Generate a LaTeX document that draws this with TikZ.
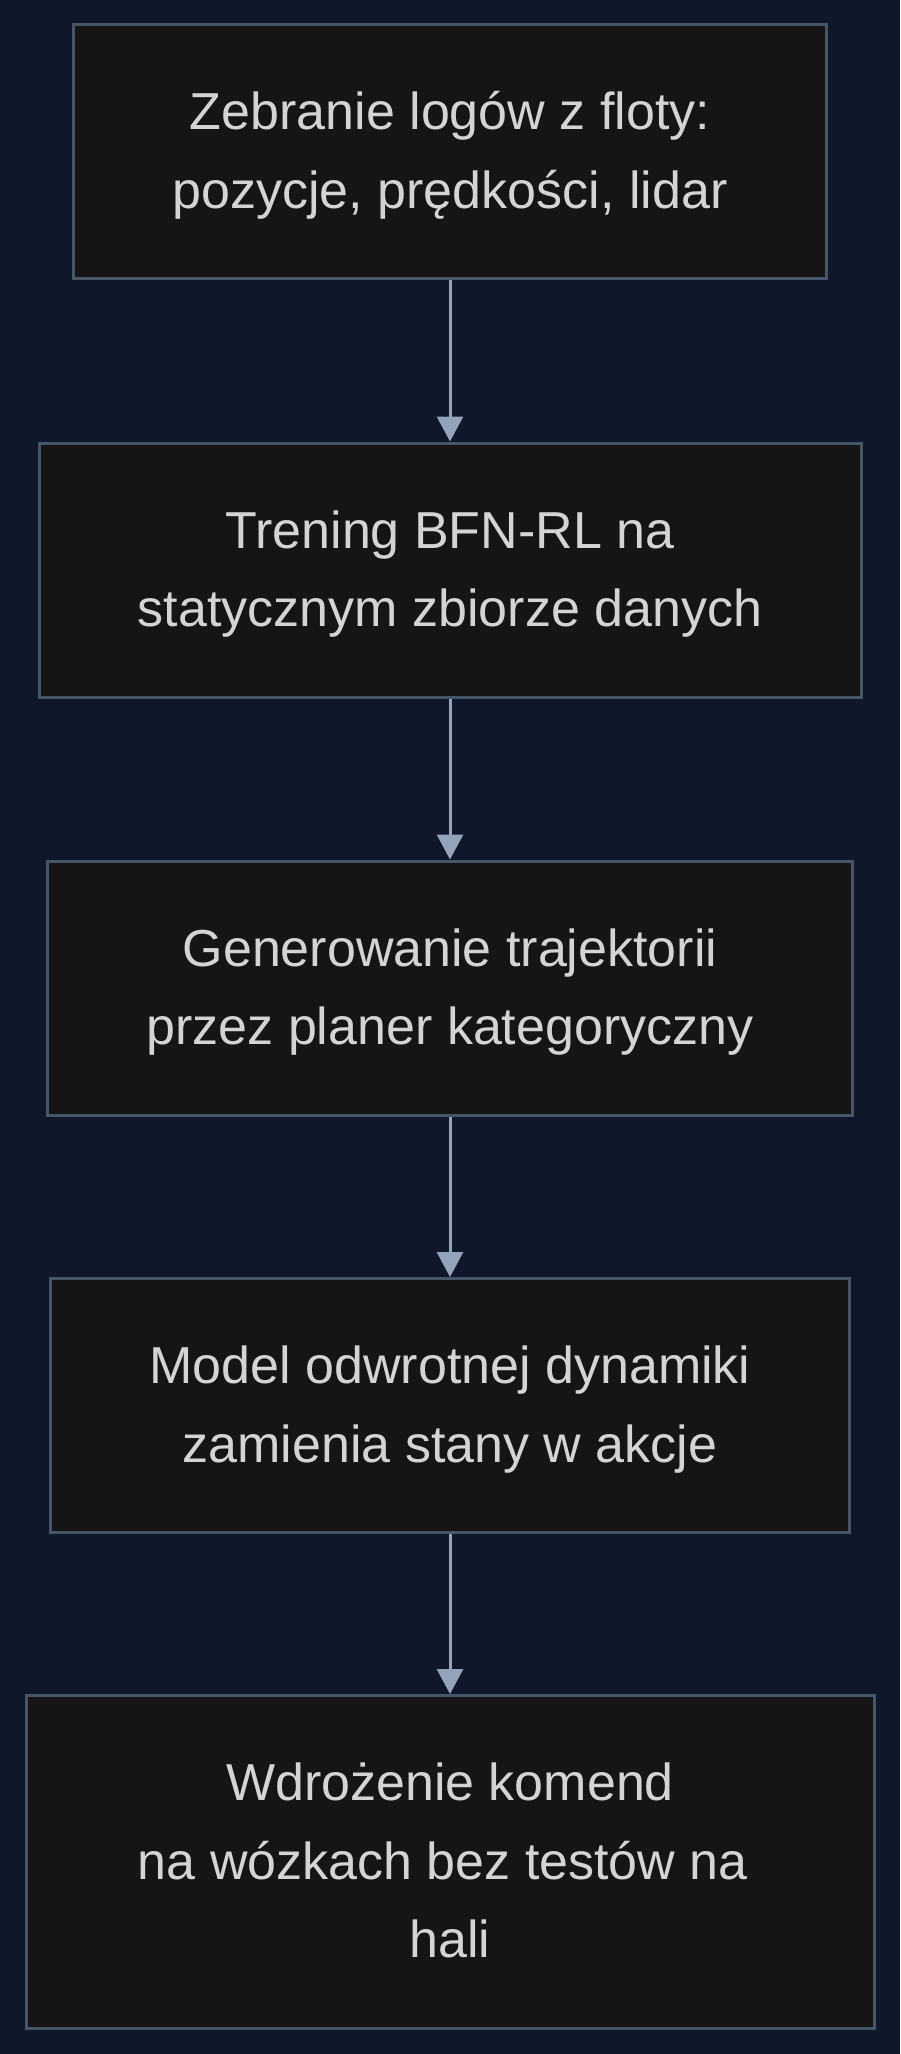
\documentclass[tikz,border=0pt]{standalone}
\usepackage{fontspec}
\setmainfont{Liberation Sans}
\usetikzlibrary{arrows.meta}
\definecolor{bg}{HTML}{0F172A}
\definecolor{boxfill}{HTML}{151515}
\definecolor{boxline}{HTML}{475569}
\definecolor{txt}{HTML}{D4D4D4}
\definecolor{arr}{HTML}{94A3B8}
\begin{document}
\begin{tikzpicture}[x=0.5pt,y=-0.5pt,
 stepbox/.style={draw=boxline, fill=boxfill, line width=1.5pt, text=txt, align=center,
   font=\fontsize{26}{39.3}\selectfont, inner sep=0pt, text height=59.3pt, text depth=2.7pt},
 threeline/.style={text height=98.6pt},
 flow/.style={draw=arr, line width=1.5pt, -{Triangle[length=12.5pt,width=13pt]}}]
\fill[bg] (0,0) rectangle (900,2054);
\useasboundingbox (0,0) rectangle (900,2054);
\node[stepbox, minimum width=376.5pt, minimum height=127pt] (a) at (450,152)
  {Zebranie logów z floty:\\pozycje, prędkości, lidar};
\node[stepbox, minimum width=411pt, minimum height=127pt] (b) at (450,570)
  {Trening BFN-RL na\\statycznym zbiorze danych};
\node[stepbox, minimum width=402.5pt, minimum height=127pt] (c) at (450,988)
  {Generowanie trajektorii\\przez planer kategoryczny};
\node[stepbox, minimum width=399.5pt, minimum height=127pt] (d) at (450,1405.5)
  {Model odwrotnej dynamiki\\zamienia stany w akcje};
\node[stepbox, threeline, minimum width=424pt, minimum height=166.25pt] (e) at (450,1861.75)
  {Wdrożenie komend\\na wózkach bez testów na\kern0.278em\\hali};
\draw[flow] (a.south) -- (b.north);
\draw[flow] (b.south) -- (c.north);
\draw[flow] (c.south) -- (d.north);
\draw[flow] (d.south) -- (e.north);
\end{tikzpicture}
\end{document}
